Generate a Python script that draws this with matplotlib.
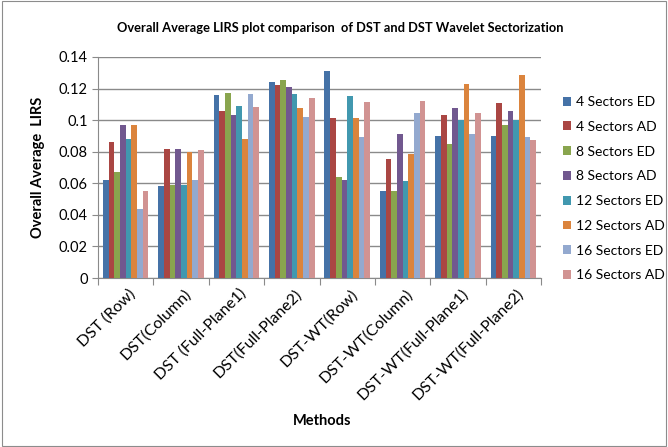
import numpy as np
import matplotlib
matplotlib.use("Agg")
import matplotlib.pyplot as plt
from matplotlib.patches import Rectangle

plt.rcParams['font.family'] = ['Lato', 'DejaVu Sans']

methods = ['DST (Row)', 'DST(Column)', 'DST (Full-Plane1)', 'DST(Full-Plane2)',
           'DST-WT(Row)', 'DST-WT(Column)', 'DST-WT(Full-Plane1)', 'DST-WT(Full-Plane2)']
series = ['4 Sectors ED', '4 Sectors AD', '8 Sectors ED', '8 Sectors AD',
          '12 Sectors ED', '12 Sectors AD', '16 Sectors ED', '16 Sectors AD']

s4_ed = [0.062, 0.058, 0.116, 0.124, 0.131, 0.055, 0.090, 0.090]
s4_ad = [0.086, 0.082, 0.1055, 0.1225, 0.1015, 0.0756, 0.103, 0.1106]
s8_ed = [0.067, 0.059, 0.117, 0.1253, 0.0642, 0.0553, 0.085, 0.097]
s8_ad = [0.097, 0.0815, 0.103, 0.1208, 0.0619, 0.0912, 0.1074, 0.1061]
s12_ed = [0.088, 0.059, 0.109, 0.1164, 0.115, 0.0613, 0.0998, 0.0998]
s12_ad = [0.097, 0.080, 0.088, 0.1074, 0.1015, 0.0783, 0.1232, 0.1284]
s16_ed = [0.044, 0.062, 0.1164, 0.1023, 0.0895, 0.1046, 0.0912, 0.0895]
s16_ad = [0.0554, 0.0808, 0.1082, 0.1141, 0.1114, 0.112, 0.1046, 0.0876]
values = [s4_ed, s4_ad, s8_ed, s8_ad, s12_ed, s12_ad, s16_ed, s16_ad]

colors = ['#4572A7', '#AA4643', '#89A54E', '#71588F', '#4198AF', '#DB843D', '#93A9CF', '#D19392']

fig = plt.figure(figsize=(6.68, 4.47), dpi=100)
fig.patches.append(Rectangle((0.003, 0.003), 0.994, 0.994, transform=fig.transFigure,
                             fill=False, edgecolor='#8c8c8c', linewidth=0.8))
ax = fig.add_axes([98/668, 1 - 278/447, 443/668, 221/447])

x = np.arange(len(methods))
n = len(series)
group = 0.82
w = group / n
for i, (vals, c, name) in enumerate(zip(values, colors, series)):
    ax.bar(x - group/2 + w*(i + 0.5), vals, w, color=c, label=name, zorder=3)

ax.set_xlim(-0.5, len(methods) - 0.5)
ax.set_ylim(0, 0.14)
ax.set_yticks(np.arange(0, 0.141, 0.02))
ax.set_yticklabels(['0', '0.02', '0.04', '0.06', '0.08', '0.1', '0.12', '0.14'], fontsize=10.5)
ax.yaxis.grid(True, color='#8a8a8a', linewidth=1, zorder=0)
ax.set_axisbelow(True)

# category labels sit on minor ticks, boundary ticks on major
ax.set_xticks(np.arange(-0.5, len(methods)), minor=False)
ax.set_xticklabels([])
ax.set_xticks(x + 0.05, minor=True)
ax.set_xticklabels(methods, minor=True, rotation=45, ha='right', rotation_mode='anchor', fontsize=11.5)
ax.tick_params(axis='x', which='minor', length=0, pad=6)
ax.tick_params(axis='x', which='major', length=5, color='#8a8a8a')
ax.tick_params(axis='y', length=4, color='#8a8a8a')

for sp in ['top', 'right']:
    ax.spines[sp].set_visible(False)
for sp in ['left', 'bottom']:
    ax.spines[sp].set_color('#8a8a8a')

ax.set_ylabel('Overall Average  LIRS', fontsize=10.5, fontweight='bold', labelpad=10)
fig.text(322/668, 1 - 421/447, 'Methods', ha='center', va='center', fontsize=10.5, fontweight='bold')
fig.text(340/668, 1 - 28/447, 'Overall Average LIRS plot comparison  of DST and DST Wavelet Sectorization',
         ha='center', va='center', fontsize=9.3, fontweight='bold')

leg = fig.legend(loc='upper left', bbox_to_anchor=(563/668, 1 - 96/447), frameon=False,
                 borderpad=0, borderaxespad=0,
                 fontsize=10, handlelength=0.6, handleheight=0.6, labelspacing=0.92, handletextpad=0.35)

fig.savefig('out.png', dpi=100)
